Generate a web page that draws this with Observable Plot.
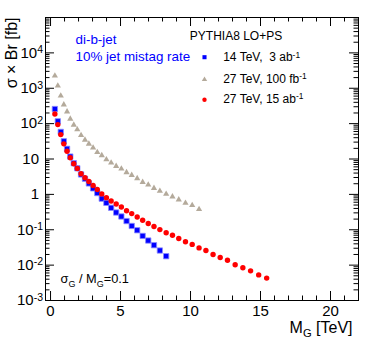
<!DOCTYPE html>
<html><head><meta charset="utf-8">
<script src="https://cdn.jsdelivr.net/npm/d3@7"></script>
<script src="https://cdn.jsdelivr.net/npm/@observablehq/plot@0.6"></script>
<style>html,body{margin:0;padding:0;background:#fff}svg{display:block}</style>
</head><body><div id="chart"></div>
<script>
// ---- data ----
const massTeV = [0.31, 0.52, 0.73, 0.95, 1.18, 1.41, 1.66, 1.91, 2.18, 2.46, 2.74, 3.04, 3.34, 3.66, 3.99, 4.33, 4.69, 5.06, 5.43, 5.80, 6.19, 6.58, 6.98, 7.39, 7.81, 8.26, 8.71, 9.16, 9.64, 10.12, 10.61, 11.10, 11.61, 12.12, 12.64, 13.19, 13.74, 14.29, 14.87, 15.44];
const sigma14TeV3ab = [259, 116, 58.3, 31.7, 19.4, 11.7, 7.62, 5.47, 3.66, 2.77, 2.04, 1.48, 1.09, 0.756, 0.576, 0.417, 0.307, 0.237, 0.176, 0.128, 0.0968, 0.0669, 0.0496, 0.0366, 0.0259, 0.0179];
const sigma27TeV100fb = [2250, 1175, 615, 343, 218, 136, 92, 68, 47, 34.7, 26.8, 20.7, 15.5, 12.6, 9.7, 7.8, 6.3, 5.3, 4.17, 3.50, 2.82, 2.22, 1.87, 1.50, 1.24, 1.02, 0.86, 0.71, 0.57, 0.49, 0.38];
const sigma27TeV15ab = [188, 93.7, 49, 26.8, 16.6, 10.8, 7.33, 5.40, 3.83, 2.95, 2.32, 1.79, 1.38, 1.03, 0.807, 0.648, 0.533, 0.439, 0.343, 0.286, 0.229, 0.185, 0.150, 0.124, 0.101, 0.0822, 0.070, 0.0565, 0.0459, 0.0385, 0.0307, 0.0259, 0.0200, 0.0165, 0.0138, 0.0102, 0.0084, 0.0069, 0.0053, 0.0043];

const seriesNames = ["14 TeV,  3 ab^{-1}", "27 TeV, 100 fb^{-1}", "27 TeV, 15 ab^{-1}"];
const seriesColors = ["#0000ff", "#b4aa9b", "#ff0000"];
const seriesSymbols = ["square", "triangle", "circle"];

const xMajorTicks = [0, 5, 10, 15, 20];
const xTickLabels = ["0", "5", "10", "15", "20"];
const xMinorTicks = [1, 2, 3, 4, 6, 7, 8, 9, 11, 12, 13, 14, 16, 17, 18, 19, 21];
const yTickValues = [1e-3, 1e-2, 1e-1, 1, 10, 1e2, 1e3, 1e4];
const yTickLabels = ["10^{-3}", "10^{-2}", "10^{-1}", "1", "10", "10^{2}", "10^{3}", "10^{4}"];
const yDecades = [1e-3, 1e-2, 1e-1, 1, 10, 1e2, 1e3, 1e4, 1e5];
const yMinorTicks = yDecades.slice(0, -1).flatMap(d => [2,3,4,5,6,7,8,9].map(k => k * d));

// ---- tables ----
const toRows = (vals) => vals.map((v, i) => ({m: massTeV[i], v}));
const rows14 = toRows(sigma14TeV3ab);
const rows27a = toRows(sigma27TeV100fb);
const rows27b = toRows(sigma27TeV15ab);
const yLabelRows = yTickValues.map((v, i) => ({v, label: yTickLabels[i]}));

const W = 373, H = 354, ML = 45, MR = 15, MT = 17, MB = 54;
const IW = W - ML - MR, IH = H - MT - MB;
const majorLen = 9, minorLen = 4.5;
const font = "'Liberation Sans', Arial, Helvetica, sans-serif";

const chart = Plot.plot({
  width: W, height: H,
  marginLeft: ML, marginRight: MR, marginTop: MT, marginBottom: MB,
  style: {fontFamily: font, background: "#fff", color: "#000", overflow: "visible"},
  x: {type: "linear", domain: [-0.36, 22], axis: null},
  y: {type: "log", domain: [1e-3, 1e5], axis: null},
  marks: [
    // ticks (ROOT style: inside the frame, mirrored)
    Plot.tickX(xMajorTicks, {x: d => d, insetTop: IH - majorLen, stroke: "#000"}),
    Plot.tickX(xMajorTicks, {x: d => d, insetBottom: IH - majorLen, stroke: "#000"}),
    Plot.tickX(xMinorTicks, {x: d => d, insetTop: IH - minorLen, stroke: "#000"}),
    Plot.tickX(xMinorTicks, {x: d => d, insetBottom: IH - minorLen, stroke: "#000"}),
    Plot.tickY(yDecades, {y: d => d, insetRight: IW - majorLen, stroke: "#000"}),
    Plot.tickY(yDecades, {y: d => d, insetLeft: IW - majorLen, stroke: "#000"}),
    Plot.tickY(yMinorTicks, {y: d => d, insetRight: IW - minorLen, stroke: "#000"}),
    Plot.tickY(yMinorTicks, {y: d => d, insetLeft: IW - minorLen, stroke: "#000"}),
    Plot.frame({stroke: "#000", strokeWidth: 1}),
    // tick labels
    Plot.text(xMajorTicks, {x: d => d, text: (d, i) => xTickLabels[i], frameAnchor: "bottom", lineAnchor: "top", dy: 5, fontSize: 15}),
    Plot.text(yLabelRows, {filter: d => d.label.includes("^"), y: "v", text: "label", frameAnchor: "left", textAnchor: "end", lineAnchor: "middle", dx: -2.5, fontSize: 15}),
    Plot.text(yLabelRows, {filter: d => !d.label.includes("^"), y: "v", text: "label", frameAnchor: "left", textAnchor: "end", lineAnchor: "middle", dx: -6.5, fontSize: 15}),
    // axis titles
    Plot.text(["M_{G} [TeV]"], {frameAnchor: "bottom-right", textAnchor: "end", lineAnchor: "bottom", dx: -6, dy: 32, fontSize: 16}),
    Plot.text(["σ × Br [fb]"], {frameAnchor: "top-left", textAnchor: "end", lineAnchor: "bottom", rotate: -90, dx: -28.5, dy: 0, fontSize: 16}),
    // data
    Plot.dot(rows27a, {x: "m", y: "v", symbol: "triangle", r: 2.3, fill: seriesColors[1], stroke: "none"}),
    Plot.dot(rows14, {x: "m", y: "v", symbol: "square", r: 3.0, fill: seriesColors[0], stroke: "#8a8aff", strokeWidth: 0.8}),
    Plot.dot(rows27b, {x: "m", y: "v", symbol: "circle", r: 2.7, fill: seriesColors[2], stroke: "none"}),
    // annotations
    Plot.text(["di-b-jet"], {frameAnchor: "top-left", textAnchor: "start", lineAnchor: "bottom", dx: 30, dy: 26.3, fontSize: 13.4, fill: "#0000ff"}),
    Plot.text(["10% jet mistag rate"], {frameAnchor: "top-left", textAnchor: "start", lineAnchor: "bottom", dx: 30, dy: 43.7, fontSize: 13.4, fill: "#0000ff"}),
    Plot.text(["PYTHIA8 LO+PS"], {frameAnchor: "top-left", textAnchor: "start", lineAnchor: "bottom", dx: 144.3, dy: 22, fontSize: 12}),
    // legend
    Plot.dot([0], {frameAnchor: "top-left", dx: 159, dy: 39.7, symbol: seriesSymbols[0], r: 2.3, fill: seriesColors[0], stroke: "none"}),
    Plot.dot([0], {frameAnchor: "top-left", dx: 159, dy: 62, symbol: seriesSymbols[1], r: 2.0, fill: seriesColors[1], stroke: "none"}),
    Plot.dot([0], {frameAnchor: "top-left", dx: 159, dy: 82.3, symbol: seriesSymbols[2], r: 2.2, fill: seriesColors[2], stroke: "none"}),
    Plot.text([seriesNames[0]], {frameAnchor: "top-left", textAnchor: "start", lineAnchor: "bottom", dx: 177.7, dy: 43.7, fontSize: 12}),
    Plot.text([seriesNames[1]], {frameAnchor: "top-left", textAnchor: "start", lineAnchor: "bottom", dx: 177.7, dy: 65.3, fontSize: 12}),
    Plot.text([seriesNames[2]], {frameAnchor: "top-left", textAnchor: "start", lineAnchor: "bottom", dx: 177.7, dy: 85.3, fontSize: 12}),
    Plot.text(["σ_{G} / M_{G}=0.1"], {frameAnchor: "bottom-left", textAnchor: "start", lineAnchor: "bottom", dx: 15, dy: -17.5, fontSize: 12.8})
  ]
});

document.getElementById("chart").appendChild(chart);

// TLatex-like ^{...} and _{...} rendering with tspans
const NS = "http://www.w3.org/2000/svg";
function richify(el) {
  const s = el.textContent;
  if (!/[\^_]\{/.test(s)) return;
  const fs = parseFloat(getComputedStyle(el).fontSize) || 12;
  const re = /([\^_])\{([^}]*)\}/g;
  const parts = [];
  let last = 0, m;
  while ((m = re.exec(s))) {
    if (m.index > last) parts.push({t: s.slice(last, m.index), k: ""});
    parts.push({t: m[2], k: m[1]});
    last = re.lastIndex;
  }
  if (last < s.length) parts.push({t: s.slice(last), k: ""});
  el.textContent = "";
  let cur = 0;
  for (const p of parts) {
    const ts = document.createElementNS(NS, "tspan");
    const target = p.k === "^" ? -0.3 * fs : p.k === "_" ? 0.3 * fs : 0;
    if (target !== cur) ts.setAttribute("dy", (target - cur).toFixed(2));
    cur = target;
    if (p.k) ts.setAttribute("font-size", (0.7 * fs).toFixed(2));
    ts.textContent = p.t;
    el.appendChild(ts);
  }
}
chart.querySelectorAll("text").forEach(richify);
</script>
</body></html>
